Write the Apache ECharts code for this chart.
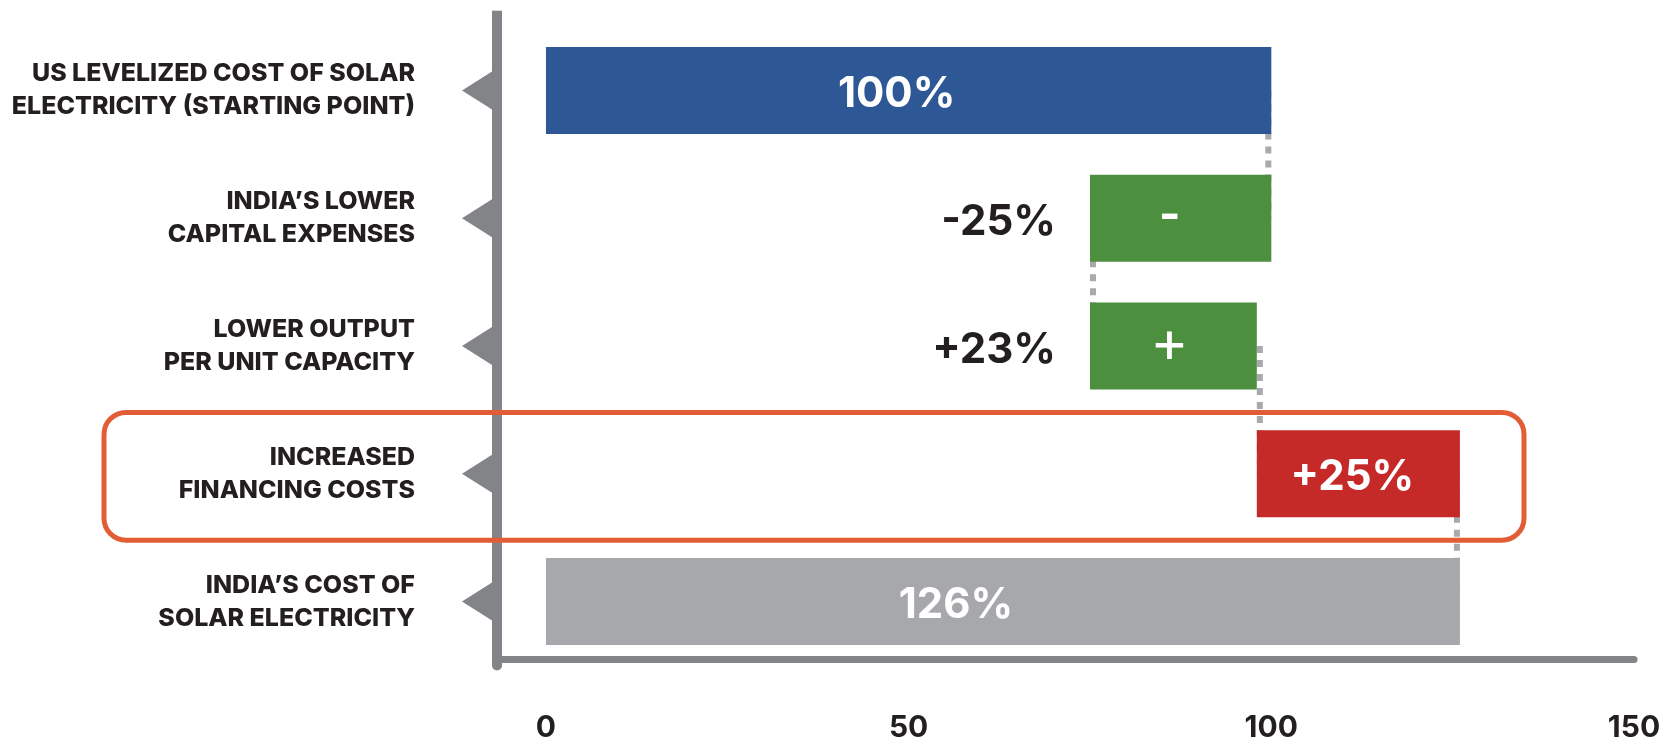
<!DOCTYPE html>
<html>
<head>
<meta charset="utf-8">
<script src="https://cdn.jsdelivr.net/npm/echarts@6/dist/echarts.min.js"></script>
<style>
  html, body { margin: 0; padding: 0; background: #ffffff; }
  #chart { width: 1664px; height: 746px; }
</style>
</head>
<body>
<div id="chart"></div>
<script>
// Waterfall: US solar electricity cost vs India's cost
const categories = [
  'US LEVELIZED COST OF SOLAR\nELECTRICITY (STARTING POINT)',
  'INDIA\u2019S LOWER\nCAPITAL EXPENSES',
  'LOWER OUTPUT\nPER UNIT CAPACITY',
  'INCREASED\nFINANCING COSTS',
  'INDIA\u2019S COST OF\nSOLAR ELECTRICITY'
];
// running level before and after each step
const stepFrom = [0, 100, 75, 98, 0];
const stepTo = [100, 75, 98, 126, 126];
const barLabels = ['100%', '-', '+', '+25%', '126%'];
const sideLabels = ['', '-25%', '+23%', '', ''];
const tickValues = [0, 50, 100, 150];
const highlightIndex = 3;

const barColors = ['#2e5796', '#4c8f3f', '#4c8f3f', '#c62a28', '#a7a8ab'];
const FONT = 'Inter, "Open Sans", sans-serif';
const TEXT = '#231f20';
const AXIS = '#838488';
const X_MIN = -6.75, X_MAX = 150;
const GRID = { left: 497, right: 30, top: 26.6, bottom: 80.6, containLabel: false, outerBoundsMode: 'none' };

const low = stepFrom.map((f, i) => Math.min(f, stepTo[i]));
const high = stepFrom.map((f, i) => Math.max(f, stepTo[i]));
const span = high.map((h, i) => h - low[i]);

// per-label text tweaks (bar labels)
function barLabelStyle(i) {
  const base = { fontFamily: FONT, fontSize: 42, fontWeight: 700, color: '#ffffff' };
  if (barLabels[i] === '+') return Object.assign(base, { fontSize: 58, fontWeight: 400, offset: [-4, -1] });
  if (barLabels[i] === '-') return Object.assign(base, { fontSize: 46, offset: [-11, -2] });
  if (i === 0) return Object.assign(base, { offset: [-12, 4] });
  if (i === categories.length - 1) return Object.assign(base, { offset: [-47, 4] });
  return Object.assign(base, { offset: [-6, 4] });
}

const chart = echarts.init(document.getElementById('chart'), null, { renderer: 'canvas' });

const option = {
  animation: false,
  backgroundColor: '#ffffff',
  grid: GRID,
  xAxis: {
    type: 'value',
    min: X_MIN,
    max: X_MAX,
    offset: -6.4,
    axisLine: { show: true, onZero: false, lineStyle: { color: AXIS, width: 7 } },
    axisTick: { show: false },
    splitLine: { show: false },
    axisLabel: {
      customValues: tickValues,
      margin: 54,
      fontFamily: FONT,
      fontSize: 30,
      fontWeight: 700,
      color: TEXT
    }
  },
  yAxis: {
    type: 'category',
    inverse: true,
    data: categories,
    axisLine: { show: true, onZero: false, lineStyle: { color: AXIS, width: 10 } },
    axisTick: { show: false },
    splitLine: { show: false },
    axisLabel: {
      margin: 82,
      fontFamily: FONT,
      fontSize: 25,
      fontWeight: 800,
      lineHeight: 33,
      padding: [0, 0, 6, 0],
      color: TEXT,
      align: 'right'
    }
  },
  series: [
    {
      // dotted connectors between consecutive steps
      type: 'custom',
      z: 1,
      clip: false,
      encode: { x: 0, y: 1 },
      data: stepTo.slice(0, -1).map((v, i) => [v, i]),
      renderItem: function (params, api) {
        const v = api.value(0);
        const i = api.value(1);
        const next = i + 1;
        const shift = (v === high[next]) ? -3 : 3;
        const a = api.coord([v, i]);
        const b = api.coord([v, next]);
        return {
          type: 'line',
          shape: { x1: a[0] + shift, y1: a[1], x2: b[0] + shift, y2: b[1] },
          style: { stroke: '#a8a9ac', lineWidth: 6, lineDash: [7, 7], fill: null }
        };
      }
    },
    {
      // invisible base of each floating bar; carries the change labels
      type: 'bar',
      stack: 'wf',
      z: 2,
      barWidth: '68%',
      itemStyle: { color: 'rgba(0,0,0,0)' },
      emphasis: { disabled: true },
      data: low.map((v, i) => ({
        value: v,
        label: {
          show: sideLabels[i] !== '',
          position: 'insideRight',
          distance: 34,
          offset: [0, 4],
          formatter: sideLabels[i],
          fontFamily: FONT,
          fontSize: 42,
          fontWeight: 700,
          color: TEXT
        }
      }))
    },
    {
      type: 'bar',
      stack: 'wf',
      z: 3,
      barWidth: '68%',
      emphasis: { disabled: true },
      data: span.map((v, i) => ({
        value: v,
        itemStyle: { color: barColors[i] },
        label: Object.assign({
          show: true,
          position: 'inside',
          formatter: barLabels[i]
        }, barLabelStyle(i))
      }))
    },
    {
      // triangular tick markers left of the category axis
      type: 'custom',
      z: 4,
      clip: false,
      encode: { x: 0, y: 1 },
      data: categories.map((c, i) => [X_MIN, i]),
      renderItem: function (params, api) {
        const p = api.coord([api.value(0), api.value(1)]);
        return {
          type: 'polygon',
          shape: { points: [[p[0] - 5, p[1] - 19], [p[0] - 5, p[1] + 19], [p[0] - 35, p[1]]] },
          style: { fill: AXIS }
        };
      }
    }
  ]
};

chart.setOption(option);

// axis line continues a little above the plotting area; highlight frame around one row
const c0 = chart.convertToPixel({ yAxisIndex: 0 }, highlightIndex);
const c1 = chart.convertToPixel({ yAxisIndex: 0 }, highlightIndex + 1);
const band = Math.abs(c1 - c0);
chart.setOption({
  graphic: [
    {
      type: 'rect',
      z: 5,
      shape: { x: GRID.left - 5, y: 10.7, width: 10, height: GRID.top - 10.7 + 1 },
      style: { fill: AXIS }
    },
    {
      type: 'rect',
      z: 10,
      shape: { x: 104, y: c0 - band / 2 + 2.5, width: 1420, height: band, r: 22 },
      style: { fill: null, stroke: '#e25d36', lineWidth: 5 }
    }
  ]
});
</script>
</body>
</html>
